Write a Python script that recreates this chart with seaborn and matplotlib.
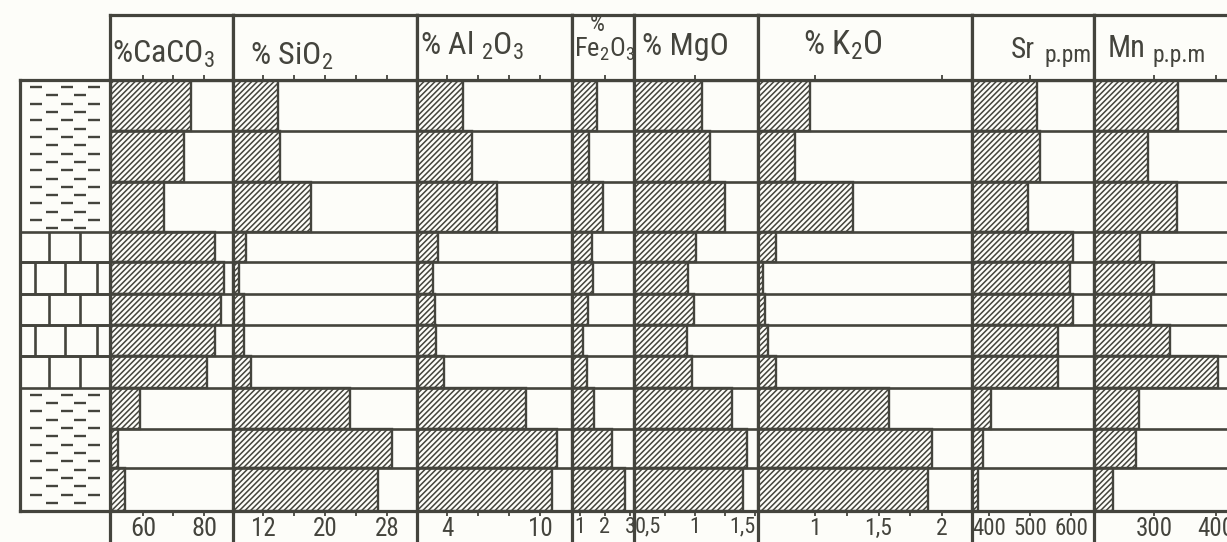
import numpy as np
import pandas as pd
import matplotlib
matplotlib.use("Agg")
import matplotlib.pyplot as plt
from matplotlib.lines import Line2D
from matplotlib import font_manager
import seaborn as sns

# ---------------- data ----------------
layer_thickness = [51, 51, 50, 30, 32, 30, 31, 32, 41, 39, 43]
lithology = ["shale"] * 3 + ["limestone"] * 5 + ["shale"] * 3

caco3 = [75.7, 73.4, 66.9, 83.6, 86.6, 85.6, 83.6, 81.0, 59.0, 51.8, 54.1]
sio2 = [14.0, 14.2, 18.2, 9.8, 8.9, 9.5, 9.6, 10.5, 23.2, 28.7, 26.9]
al2o3 = [5.0, 5.6, 7.2, 3.4, 3.1, 3.2, 3.3, 3.8, 9.1, 11.1, 10.75]
fe2o3 = [1.69, 1.37, 1.91, 1.47, 1.53, 1.33, 1.13, 1.27, 1.57, 2.27, 2.8]
mgo = [1.06, 1.12, 1.25, 1.01, 0.94, 0.99, 0.93, 0.97, 1.31, 1.43, 1.40]
k2o = [0.96, 0.84, 1.30, 0.69, 0.59, 0.61, 0.63, 0.69, 1.58, 1.92, 1.89]
sr_ppm = [516, 524, 496, 606, 598, 604, 569, 569, 404, 386, 373]
mn_ppm = [339, 291, 337, 277, 300, 295, 326, 404, 275, 271, 234]

series = [caco3, sio2, al2o3, fe2o3, mgo, k2o, sr_ppm, mn_ppm]

bottom_ticks = [[60, 70, 80], [12, 16, 20, 24, 28], [4, 6, 8, 10], [1, 2, 3],
                [0.5, 0.75, 1, 1.25, 1.5], [1, 1.25, 1.5, 1.75, 2],
                [400, 500, 600], [300, 400]]
bottom_labels = [["60", "", "80"], ["12", "", "20", "", "28"], ["4", "", "", "10"],
                 ["1", "2", "3"], ["0,5", "", "1", "", "1,5"],
                 ["1", "", "1,5", "", "2"], ["400", "500", "600"], ["300", "400"]]
header_ticks = [[60, 70, 80], [12, 16, 20, 24, 28], [4, 6, 8, 10], [2], [1],
                [1, 2], [500], [300, 400]]
x_ranges = [(49.2, 89.5), (8.13, 31.87), (2.06, 12.06), (0.68, 3.16),
            (0.49, 1.523), (0.551, 2.236), (358.5, 656.1), (203.2, 535.5)]

# ---------------- style ----------------
sns.set_theme(style="white")
names = {f.name for f in font_manager.fontManager.ttflist}
FONT = "DejaVu Sans"
scale = 0.85
for cand, sc in [("Liberation Sans Narrow", 1.0), ("Roboto Condensed", 1.0),
                 ("Roboto", 0.96), ("Liberation Sans", 0.9)]:
    if cand in names:
        FONT, scale = cand, sc
        break
plt.rcParams["font.family"] = [FONT, "DejaVu Sans"]
plt.rcParams["mathtext.default"] = "regular"
INK = "#44443d"
BG = "#fdfdf9"
plt.rcParams["hatch.color"] = INK
plt.rcParams["hatch.linewidth"] = 1.1

W, H = 1227, 542
fig = plt.figure(figsize=(W / 100, H / 100), dpi=100, facecolor=BG)

col_edges = [110, 233, 417, 572, 634, 758, 972, 1094, 1300]
body_top, body_bot, head_top = 80, 511, 15
label_sizes = [19, 18, 18, 16, 16, 17, 16.5, 18]

n = len(layer_thickness)
total = float(sum(layer_thickness))
tops = np.concatenate([[0], np.cumsum(layer_thickness)[:-1]])
bounds = np.cumsum(layer_thickness)[:-1]


def style_spines(ax, lw=2.3):
    for s in ax.spines.values():
        s.set_visible(True)
        s.set_color(INK)
        s.set_linewidth(lw)


for i, vals in enumerate(series):
    x0, x1 = col_edges[i], col_edges[i + 1]
    ax = fig.add_axes([x0 / W, 1 - body_bot / H, (x1 - x0) / W, (body_bot - body_top) / H])
    ax.set_facecolor(BG)
    df = pd.DataFrame({"layer": np.arange(n), "value": vals})
    sns.barplot(data=df, x="value", y="layer", orient="h", ax=ax, color=BG,
                saturation=1, width=1, errorbar=None, edgecolor=INK,
                linewidth=1.7, hatch="//////")
    for p, t, h in zip(ax.patches, tops, layer_thickness):
        p.set_y(t)
        p.set_height(h)
    ax.set_ylim(total, 0)
    ax.set_xlim(*x_ranges[i])
    for b in bounds:
        ax.axhline(b, color=INK, lw=1.9, zorder=5)
    ax.set_yticks([])
    ax.set_xlabel("")
    ax.set_ylabel("")
    ax.set_xticks(bottom_ticks[i])
    ax.set_xticklabels(bottom_labels[i])
    ax.tick_params(axis="x", direction="out", length=3.6, width=1.3, color=INK,
                   labelsize=label_sizes[i] * scale, pad=0.5, labelcolor=INK,
                   bottom=True)
    if i == 4:
        lbls = ax.get_xticklabels()
        lbls[0].set_ha("left")
        lbls[-1].set_ha("right")
    style_spines(ax)

    hax = fig.add_axes([x0 / W, 1 - body_top / H, (x1 - x0) / W, (body_top - head_top) / H])
    hax.set_facecolor(BG)
    hax.set_xlim(*x_ranges[i])
    hax.set_ylim(0, 1)
    hax.set_yticks([])
    hax.set_xticks(header_ticks[i])
    hax.tick_params(axis="x", direction="in", length=3.6, width=1.3, color=INK,
                    labelbottom=False, bottom=True)
    style_spines(hax)

# dividers through the scale-label strip
for x in col_edges[:-1]:
    fig.add_artist(Line2D([x / W, x / W], [0, 1 - body_bot / H], color=INK,
                          lw=2.3, transform=fig.transFigure))

# lithology column
lax = fig.add_axes([20 / W, 1 - body_bot / H, 90 / W, (body_bot - body_top) / H])
lax.set_facecolor(BG)
lax.set_xlim(0, 90)
lax.set_ylim(total, 0)
lax.set_xticks([])
lax.set_yticks([])
style_spines(lax)

i = 0
lime_k = 0
while i < n:
    j = i
    while j + 1 < n and lithology[j + 1] == lithology[i] and lithology[i] == "shale":
        j += 1
    y0 = tops[i]
    y1 = tops[j] + layer_thickness[j]
    if lithology[i] == "shale":
        y = y0 + 7
        k = 0
        while y < y1 - 3:
            xs = [16, 47, 74] if k % 2 == 0 else [32, 60]
            lax.hlines([y] * len(xs), [x - 6 for x in xs], [x + 6 for x in xs],
                       color=INK, lw=1.7)
            y += 8.3
            k += 1
    else:
        xs = [29, 60] if lime_k % 2 == 0 else [15, 45, 77]
        lax.vlines(xs, y0, y1, color=INK, lw=1.9)
        lax.hlines([y0, y1], 0, 90, color=INK, lw=1.9)
        lime_k += 1
    i = j + 1

# header titles
def ftext(px, py, s, size, **kw):
    fig.text(px / W, 1 - py / H, s, fontsize=size * scale, color=INK,
             va="baseline", ha=kw.pop("ha", "left"), **kw)

ftext(112, 63, "%CaCO$_3$", 23)
ftext(250, 65, "% SiO$_2$", 23)
ftext(420, 55, "% Al $_2$O$_3$", 23)
ftext(597, 31, "%", 17, ha="center")
ftext(574, 57, "Fe$_2$O$_3$", 19)
ftext(642, 55, "% MgO", 23)
ftext(803, 55, "% K$_2$O", 24)
ftext(1011, 58, "Sr", 21)
ftext(1045, 62, "p.pm", 17)
ftext(1108, 57, "Mn", 22)
ftext(1152, 62, "p.p.m", 17)

fig.savefig("out.png", dpi=100, facecolor=BG)
